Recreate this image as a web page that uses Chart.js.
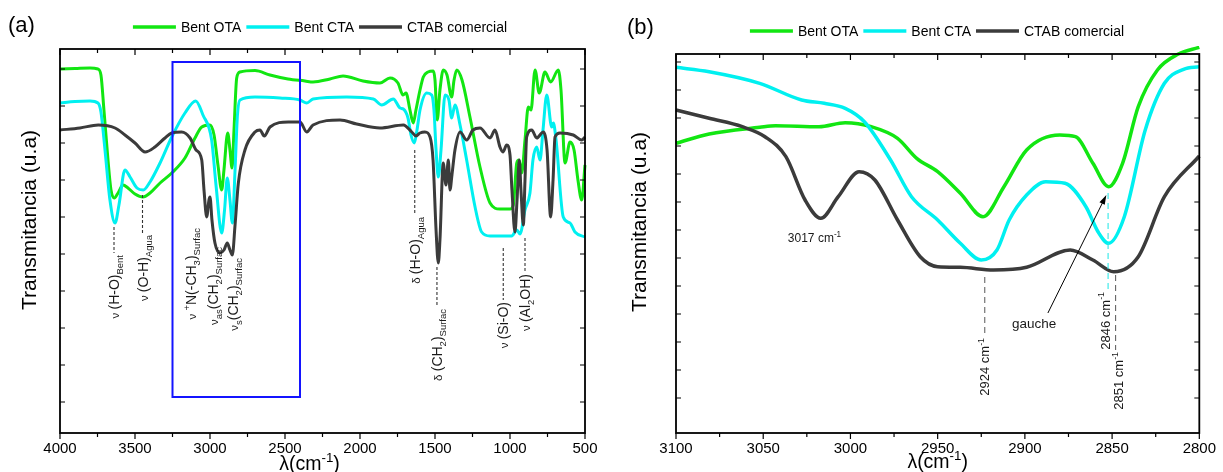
<!DOCTYPE html>
<html>
<head>
<meta charset="utf-8">
<script src="https://cdn.jsdelivr.net/npm/chart.js@4.4.1/dist/chart.umd.min.js"></script>
<style>
  html, body { margin: 0; padding: 0; background: #fff; }
  #wrap { position: relative; width: 1223px; height: 472px; overflow: hidden; }
  canvas { position: absolute; top: 0; }
</style>
</head>
<body>
<div id="wrap">
  <canvas id="chartA" width="612" height="472" style="left:0;width:612px;height:472px"></canvas>
  <canvas id="chartB" width="611" height="472" style="left:612px;width:611px;height:472px"></canvas>
</div>
<script>
// series names (legend)
const series = ['Bent OTA', 'Bent CTA', 'CTAB comercial'];

// ---- panel (a): full spectrum, wavenumber (cm-1) / transmittance (a.u.)
const wnA_ota = [4000,3900,3800,3747,3727,3707,3680,3660,3638,3613,3580,3547,3500,3447,3400,3333,3255,3167,3100,3055,
  3000,2973,2947,2922,2907,2882,2867,2853,2840,2822,2800,2700,2600,2480,2367,2313,2200,2113,1980,1867,
  1800,1747,1713,1693,1667,1645,1627,1600,1578,1547,1511,1500,1485,1467,1445,1420,1389,1373,1355,1320,
  1267,1200,1133,1067,1000,978,955,940,922,900,878,860,833,805,767,729,678,660,633,600,573,547,522,500];
const tA_ota = [364,364.5,365,364,358,323,273,243,235,240,248,245,239,236,240,250,260,275,295,306,
  308,298,268,243,263,300,283,265,303,355,361,362.5,358,354,352,351,354,357,352,350,
  355,350,338,340,323,310,323,343,356,361,362,353,313,343,363,358,336,353,363,353,
  316,266,230,224,224,228,270,273,260,293,326,323,363,340,361,351,363,343,270,291,283,253,233,268];

const wnA_cta = [4000,3900,3800,3747,3727,3700,3667,3633,3607,3567,3533,3487,3445,3400,3333,3255,3167,3095,3047,2989,
  2960,2922,2903,2885,2867,2851,2833,2817,2800,2700,2533,2400,2355,2313,2089,1911,1855,1778,1733,1711,
  1680,1660,1638,1620,1600,1555,1522,1507,1493,1478,1460,1433,1407,1389,1367,1333,1289,1233,1189,1133,
  989,955,933,900,867,847,822,800,780,755,722,711,693,645,600,567,500];
const tA_cta = [330,331.5,332,330,321,283,233,210,228,263,256,245,243,251,270,296,320,332,318,293,
  248,200,223,255,233,210,263,318,333,336,335,333,330,334,336,334,328,334,325,324,
  315,298,290,303,323,340,338,323,283,256,283,338,333,315,328,308,273,226,201,197,
  197,203,199,223,240,273,286,273,303,338,306,310,293,216,210,201,196];

const wnA_ctab = [4000,3867,3745,3633,3567,3500,3433,3367,3300,3255,3189,3133,3093,3055,3040,3022,3007,3000,2987,2967,
  2933,2907,2885,2867,2851,2833,2811,2767,2700,2667,2638,2600,2478,2400,2355,2313,2133,2022,1867,1711,
  1655,1627,1600,1567,1533,1513,1493,1478,1467,1445,1427,1411,1400,1387,1367,1333,1289,1247,1200,1133,
  1100,1067,1047,1022,1000,987,967,953,938,927,911,900,889,855,822,778,753,729,713,700,667,578,522,500];
const tA_ctab = [303,305,308,305,298,290,281,286,295,300,301,295,283,273,243,216,233,236,213,190,
  180,183,190,183,178,208,250,283,301,303,297,306,311,311,301,308,313,309,305,308,
  301,297,300,301,296,273,203,170,193,270,248,273,243,258,283,301,293,303,305,295,
  303,286,281,288,278,243,201,233,273,243,208,253,296,303,295,301,283,216,253,296,300,298,293,296];

const xTicksA = [4000, 3500, 3000, 2500, 2000, 1500, 1000, 500];
const xMinorA = [3750, 3250, 2750, 2250, 1750, 1250, 750];
const yTicksA = [31, 68, 105, 142, 179, 216, 253, 290, 327, 364];

// ---- panel (b): C-H stretching zoom
const wnB_ota = [3100,3081,3052,3043,3018,3003,2988,2973,2962,2950,2937,2924,2912,2899,2880,2871,2861,2852,2844,2835,2824,2812,2800];
const tB_ota = [289.7,299,305.7,307.3,306.3,310.3,306.3,294.7,274.7,261.3,239.7,216.3,246.3,283,298,296.3,269.7,246.3,269.7,326.3,363,379,385.7];

const wnB_cta = [3100,3081,3052,3028,3015,3003,2992,2977,2965,2950,2937,2925,2916,2909,2899,2888,2877,2865,2858,2852,2843,2831,2820,2809,2800];
const tB_cta = [365.7,361.3,349.7,333,329.7,324.7,311.3,273,236.3,213,189.7,173,183,213,238,251.3,249.7,226.3,201,189.7,216.3,303,349.7,363.7,366.3];

const wnB_ctab = [3100,3081,3062,3049,3037,3026,3017,3007,2995,2986,2973,2960,2950,2937,2918,2899,2874,2861,2849,2835,2820,2800];
const tB_ctab = [323,314.7,306.3,296.3,276.3,233,214.7,236.3,261.3,253,213,176.3,166.3,165.7,163,165.7,183,173,161.3,176.3,236.3,277];

const xTicksB = [3100, 3050, 3000, 2950, 2900, 2850, 2800];
const xMinorB = [3075, 3025, 2975, 2925, 2875, 2825];
const yTicksB = [35, 63, 91, 119, 147, 175, 203, 231, 259, 287, 315, 343, 371];

const FONT = '"Liberation Sans", Arial, sans-serif';
const COLORS = ['#12e612', '#00f0f0', '#3b3b3b'];

// texto con sub/superindices: segs = [[texto, 'n'|'g'|'sub'|'sup'], ...]
function segFont(k, size) {
  const f = k === 'n' ? size : k === 'g' ? size * 0.82 : size * 0.68;
  return f.toFixed(1) + 'px ' + FONT;
}
function segDy(k, size) {
  return k === 'sub' ? size * 0.3 : k === 'sup' ? -size * 0.42 : 0;
}
function drawRich(ctx, segs, x, y, size, align) {
  let w = 0;
  segs.forEach(([t, k]) => { ctx.font = segFont(k, size); w += ctx.measureText(t).width; });
  let cx = align === 'right' ? x - w : align === 'center' ? x - w / 2 : x;
  ctx.textAlign = 'left';
  ctx.textBaseline = 'alphabetic';
  segs.forEach(([t, k]) => {
    ctx.font = segFont(k, size);
    ctx.fillText(t, cx, y + segDy(k, size));
    cx += ctx.measureText(t).width;
  });
}

function line(i, wn, t, width) {
  return {
    label: series[i],
    data: wn.map((w, j) => ({ x: w, y: t[j] })),
    borderColor: COLORS[i],
    borderWidth: width,
    pointRadius: 0,
    fill: false,
    order: 3 - i,
    clip: 8,
    cubicInterpolationMode: 'monotone'
  };
}

// marco, ticks, anotaciones, leyenda y titulos
function deco(o) {
  return {
    id: 'deco' + o.tag,
    afterDatasetsDraw(chart) {
      const { ctx, chartArea: a } = chart;
      const X = v => chart.scales.x.getPixelForValue(v);
      const Y = v => chart.scales.y.getPixelForValue(v);
      ctx.save();

      if (o.box) {
        ctx.strokeStyle = '#1414ff';
        ctx.lineWidth = 2;
        ctx.strokeRect(X(o.box[0]), Y(o.box[2]), X(o.box[1]) - X(o.box[0]), Y(o.box[3]) - Y(o.box[2]));
      }

      // marco
      ctx.strokeStyle = '#000';
      ctx.lineWidth = 1.8;
      ctx.strokeRect(a.left, a.top, a.right - a.left, a.bottom - a.top);
      ctx.lineWidth = 1.2;
      ctx.beginPath();
      o.xMajor.forEach(v => {
        const px = X(v);
        ctx.moveTo(px, a.bottom); ctx.lineTo(px, a.bottom + 6);
        ctx.moveTo(px, a.top); ctx.lineTo(px, a.top + 6);
      });
      o.xMinor.forEach(v => {
        const px = X(v);
        ctx.moveTo(px, a.bottom); ctx.lineTo(px, a.bottom + 4);
        ctx.moveTo(px, a.top); ctx.lineTo(px, a.top + 4);
      });
      o.yTicks.forEach(v => {
        const py = Y(v);
        ctx.moveTo(a.left, py); ctx.lineTo(a.left + 5, py);
        ctx.moveTo(a.right, py); ctx.lineTo(a.right - 5, py);
      });
      ctx.stroke();

      // anotaciones
      o.notes.forEach(n => {
        const px = X(n.wn);
        if (n.dash) {
          ctx.setLineDash(n.pat || [3, 2]);
          ctx.strokeStyle = n.dashColor || '#333';
          ctx.lineWidth = 1.1;
          ctx.beginPath();
          ctx.moveTo(px, Y(n.dash[0])); ctx.lineTo(px, Y(n.dash[1]));
          ctx.stroke();
          ctx.setLineDash([]);
        }
        ctx.fillStyle = '#1a1a1a';
        if (n.top !== undefined) {
          ctx.save();
          ctx.translate(px + (n.dx || 0), Y(n.top));
          ctx.rotate(-Math.PI / 2);
          drawRich(ctx, n.segs, 0, n.size * 0.36, n.size, 'right');
          ctx.restore();
        } else {
          drawRich(ctx, n.segs, px, Y(n.at) + n.size * 0.36, n.size, 'center');
        }
      });

      if (o.arrow) {
        const [w0, v0, w1, v1] = o.arrow;
        const x0 = X(w0), y0 = Y(v0), x1 = X(w1), y1 = Y(v1);
        const ang = Math.atan2(y1 - y0, x1 - x0);
        ctx.strokeStyle = '#000';
        ctx.fillStyle = '#000';
        ctx.lineWidth = 1;
        ctx.beginPath(); ctx.moveTo(x0, y0); ctx.lineTo(x1 - 6 * Math.cos(ang), y1 - 6 * Math.sin(ang)); ctx.stroke();
        ctx.beginPath();
        ctx.moveTo(x1, y1);
        ctx.lineTo(x1 - 10 * Math.cos(ang - 0.3), y1 - 10 * Math.sin(ang - 0.3));
        ctx.lineTo(x1 - 10 * Math.cos(ang + 0.3), y1 - 10 * Math.sin(ang + 0.3));
        ctx.closePath(); ctx.fill();
      }

      // leyenda
      ctx.font = '14px ' + FONT;
      const ds = chart.data.datasets;
      const L = 43, gap = 5;
      let total = 0;
      ds.forEach(d => { total += L + gap + ctx.measureText(d.label).width; });
      total += gap * (ds.length - 1);
      let cx = o.legendX - total / 2;
      ds.forEach(d => {
        ctx.strokeStyle = d.borderColor;
        ctx.lineWidth = 3.5;
        ctx.beginPath(); ctx.moveTo(cx, o.legendY); ctx.lineTo(cx + L, o.legendY); ctx.stroke();
        cx += L + gap;
        ctx.fillStyle = '#000';
        ctx.textAlign = 'left';
        ctx.textBaseline = 'middle';
        ctx.fillText(d.label, cx, o.legendY + 1);
        cx += ctx.measureText(d.label).width + gap;
      });

      // titulos
      ctx.fillStyle = '#000';
      drawRich(ctx, [['λ(cm', 'n'], ['-1', 'sup'], [')', 'n']], (a.left + a.right) / 2 + o.xTitleDx, o.xTitleY, 19.5, 'center');
      ctx.save();
      ctx.translate(o.yTitleX, o.yTitleY);
      ctx.rotate(-Math.PI / 2);
      ctx.font = '21px ' + FONT;
      ctx.textAlign = 'center';
      ctx.textBaseline = 'middle';
      ctx.fillText('Transmitancia (u.a)', 0, 0);
      ctx.restore();
      ctx.font = '22px ' + FONT;
      ctx.textAlign = 'left';
      ctx.textBaseline = 'alphabetic';
      ctx.fillText(o.letter, o.letterX, o.letterY);

      ctx.restore();
    }
  };
}

function xScale(min, max, ticks) {
  return {
    type: 'linear', min, max, reverse: true,
    afterBuildTicks: s => { s.ticks = ticks.map(v => ({ value: v })); },
    afterFit: s => { s.height = 39; },
    grid: { display: false, drawTicks: false },
    border: { display: false },
    ticks: {
      autoSkip: false, maxRotation: 0, padding: 7, color: '#000',
      font: { family: FONT, size: 15 },
      callback: v => String(v)
    }
  };
}

const base = {
  responsive: false,
  animation: false,
  events: [],
  plugins: { legend: { display: false }, tooltip: { enabled: false } }
};

new Chart(document.getElementById('chartA'), {
  type: 'line',
  data: {
    datasets: [
      line(0, wnA_ota, tA_ota, 3),
      line(1, wnA_cta, tA_cta, 3),
      line(2, wnA_ctab, tA_ctab, 3)
    ]
  },
  options: {
    ...base,
    layout: { padding: { left: 60, right: 27, top: 49, bottom: 0 } },
    scales: { x: xScale(500, 4000, xTicksA), y: { display: false, min: 0, max: 384 } }
  },
  plugins: [deco({
    tag: 'A', xMajor: xTicksA, xMinor: xMinorA, yTicks: yTicksA,
    box: [3250, 2400, 371, 36],
    legendX: 320, legendY: 27, xTitleY: 470, xTitleDx: -13, yTitleX: 30, yTitleY: 220,
    letter: '(a)', letterX: 8, letterY: 32,
    notes: [
      { wn: 3640, dash: [206, 180], top: 178, size: 14, segs: [['ν ', 'g'], ['(H-O)', 'n'], ['Bent', 'sub']] },
      { wn: 3450, dash: [238, 200], top: 198, size: 14, segs: [['ν ', 'g'], ['(O-H)', 'n'], ['Agua', 'sub']] },
      { wn: 3125, top: 205, size: 14, segs: [['ν ', 'g'], ['+', 'sup'], ['N(-CH', 'n'], ['3', 'sub'], [')', 'n'], ['Surfac', 'sub']] },
      { wn: 2980, top: 186, size: 14, segs: [['ν', 'g'], ['as', 'sub'], ['(CH', 'n'], ['2', 'sub'], [')', 'n'], ['Surfac', 'sub']] },
      { wn: 2848, top: 175, size: 14, segs: [['ν', 'g'], ['s', 'sub'], ['(CH', 'n'], ['2', 'sub'], [')', 'n'], ['Surfac', 'sub']] },
      { wn: 1635, dash: [283, 218], top: 216, size: 14, segs: [['δ ', 'g'], ['(H-O)', 'n'], ['Agua', 'sub']] },
      { wn: 1487, dash: [166, 126], top: 124, size: 14, segs: [['δ ', 'g'], ['(CH', 'n'], ['2', 'sub'], [')', 'n'], ['Surfac', 'sub']] },
      { wn: 1045, dash: [185, 133], top: 131, size: 14, segs: [['ν ', 'g'], ['(Si-O)', 'n']] },
      { wn: 900, dash: [195, 161], top: 159, size: 14, segs: [['ν ', 'g'], ['(Al', 'n'], ['2', 'sub'], ['OH)', 'n']] }
    ]
  })]
});

new Chart(document.getElementById('chartB'), {
  type: 'line',
  data: {
    datasets: [
      line(0, wnB_ota, tB_ota, 3.5),
      line(1, wnB_cta, tB_cta, 3.5),
      line(2, wnB_ctab, tB_ctab, 3.5)
    ]
  },
  options: {
    ...base,
    layout: { padding: { left: 64, right: 18, top: 54, bottom: 0 } },
    scales: { x: xScale(2800, 3100, xTicksB), y: { display: false, min: 0, max: 379 } }
  },
  plugins: [deco({
    tag: 'B', xMajor: xTicksB, xMinor: xMinorB, yTicks: yTicksB,
    legendX: 325, legendY: 31, xTitleY: 468, xTitleDx: 0, yTitleX: 28, yTitleY: 222,
    letter: '(b)', letterX: 15, letterY: 34,
    arrow: [2886.8, 120, 2853.3, 238],
    notes: [
      { wn: 3020.6, at: 195, size: 12, segs: [['3017 cm', 'n'], ['-1', 'sup']] },
      { wn: 2923, dash: [156, 98], pat: [6, 4], dashColor: '#666', top: 95, size: 13, segs: [['2924 cm', 'n'], ['-1', 'sup']] },
      { wn: 2852.3, dash: [240, 143], pat: [6, 4], dashColor: '#30e8e8', top: 141, dx: -3, size: 13, segs: [['2846 cm', 'n'], ['-1', 'sup']] },
      { wn: 2848, dash: [158, 83], pat: [6, 4], dashColor: '#666', top: 81, dx: 3, size: 13, segs: [['2851 cm', 'n'], ['-1', 'sup']] },
      { wn: 2894.7, at: 110, size: 13.5, segs: [['gauche', 'n']] }
    ]
  })]
});
</script>
</body>
</html>
